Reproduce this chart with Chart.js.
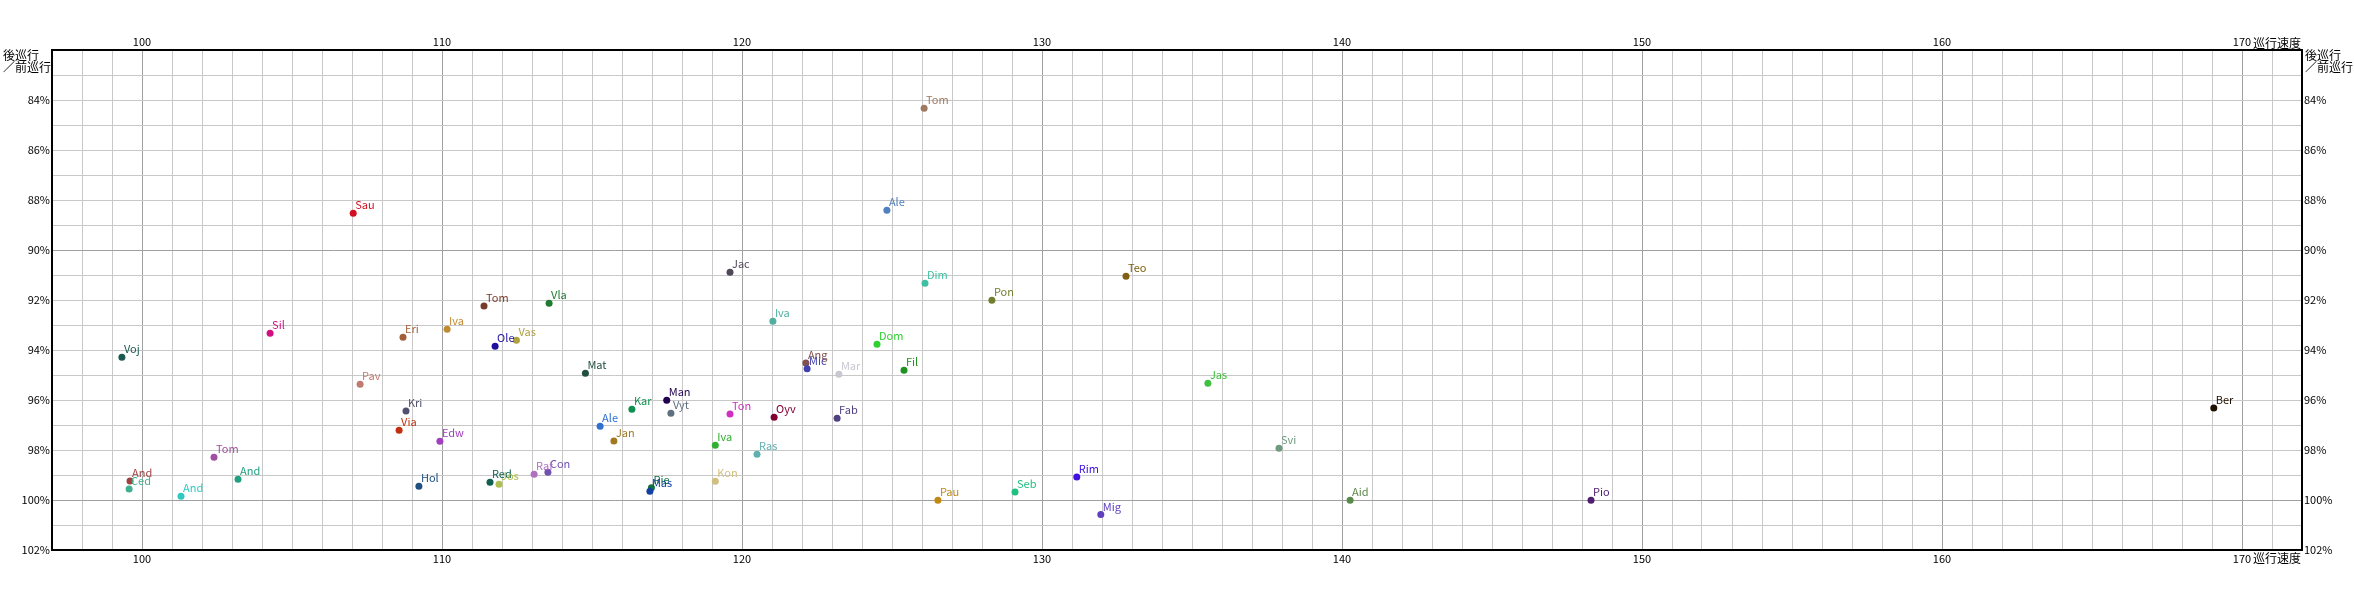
<!DOCTYPE html>
<html lang="ja">
<head>
  <meta charset="UTF-8">
  <title>巡行速度 / 後巡行・前巡行</title>
  <script src="https://cdn.jsdelivr.net/npm/chart.js"></script>
  <style>
    body { margin: 0; background: #fff; }
    canvas { display: block; }
  </style>
</head>
<body>
  <canvas id="graphique" width="2354" height="600"></canvas>

  <script>
    // données
    const names = ["Tom","Ale","Sau","Jac","Teo","Dim","Pon","Vla","Tom","Iva","Iva","Sil","Eri","Vas","Dom","Ole","Voj","Ang","Mic","Fil","Mat","Mar","Jas","Pav","Man","Ber","Kar","Kri","Vyt","Ton","Oyv","Fab","Ale","Via","Jan","Edw","Iva","Svi","Ras","Tom","Con","Raf","Rim","And","And","Kon","Red","Jos","Hol","Rie","Mas","Ced","Seb","And","Pau","Aid","Pio","Mig"];
    const speeds = [126.07,124.83,107.04,119.6,132.8,126.1,128.33,113.57,111.4,121.03,110.17,104.27,108.7,112.48,124.5,111.77,99.33,122.13,122.17,125.4,114.78,123.23,135.53,107.27,117.49,169.06,116.33,108.8,117.63,119.6,121.07,123.17,115.27,108.57,115.73,109.93,119.11,137.9,120.5,102.4,113.53,113.07,131.16,103.2,99.6,119.11,111.6,111.9,109.23,116.98,116.93,99.57,129.1,101.3,126.53,140.27,148.3,131.96];
    const ratios = [84.33,88.41,88.53,90.89,91.05,91.33,92.01,92.13,92.24,92.85,93.17,93.33,93.49,93.61,93.77,93.85,94.29,94.52,94.75,94.81,94.93,94.97,95.33,95.37,96.01,96.32,96.37,96.44,96.53,96.56,96.69,96.73,97.05,97.21,97.64,97.65,97.81,97.93,98.17,98.29,98.89,98.97,99.08,99.17,99.24,99.25,99.29,99.37,99.45,99.51,99.65,99.56,99.68,99.85,100.01,100.01,100.01,100.58];

    const xTicks = [100, 110, 120, 130, 140, 150, 160, 170];
    const yTicks = [84, 86, 88, 90, 92, 94, 96, 98, 100, 102];
    const xTitre = "巡行速度";
    const yTitre = ["後巡行", "／前巡行"];

    const couleurs = ["#a07a60","#5080c0","#d01020","#504858","#806010","#40c0a0","#708030","#207a30","#7a3a2a","#50b0a0","#c08a30","#d01080","#a0603a","#b0a040","#30d030","#2010a0","#1a5a50","#805050","#4040b0","#209020","#205040","#c8c8d0","#40c040","#c07a70","#200050","#201000","#109050","#505070","#607080","#d030c0","#800030","#504080","#3070d0","#c03010","#a07a20","#a040c0","#30b030","#709a80","#60b0b0","#a050a0","#7050b0","#b070c0","#4010e0","#20a080","#a04040","#d0c080","#106050","#b0c050","#205080","#107040","#1040a0","#40b090","#20c080","#30c8c0","#c08a10","#5a8a4a","#502070","#6040c0"];

    const police = '"Noto Sans CJK JP", sans-serif';
    const points = names.map((n, i) => ({ x: speeds[i], y: ratios[i] }));

    // étiquettes des points
    const etiquettes = {
      id: 'etiquettes',
      afterDatasetsDraw(chart) {
        const c = chart.ctx;
        const meta = chart.getDatasetMeta(0);
        c.save();
        c.font = '11px ' + police;
        c.textAlign = 'left';
        c.textBaseline = 'alphabetic';
        meta.data.forEach((pt, i) => {
          c.fillStyle = couleurs[i];
          c.fillText(names[i], pt.x + 2, pt.y - 4);
        });
        c.restore();
      }
    };

    // cadre + titres des axes
    const cadre = {
      id: 'cadre',
      beforeDatasetsDraw(chart) {
        const a = chart.chartArea;
        const c = chart.ctx;
        c.save();
        c.strokeStyle = '#000';
        c.lineWidth = 2;
        c.strokeRect(a.left, a.top, a.right - a.left, a.bottom - a.top);
        c.fillStyle = '#000';
        c.font = '12px ' + police;
        c.textAlign = 'right';
        c.textBaseline = 'bottom';
        c.fillText(xTitre, a.right - 1, a.top - 1);
        c.textBaseline = 'top';
        c.fillText(xTitre, a.right - 1, a.bottom + 2);
        c.textAlign = 'left';
        c.fillText(yTitre[0], 3, a.top - 1);
        c.fillText(yTitre[1], 3, a.top + 11);
        c.fillText(yTitre[0], a.right + 3, a.top - 1);
        c.fillText(yTitre[1], a.right + 3, a.top + 11);
        c.restore();
      }
    };

    const couleurGrille = (ctx) => ctx.tick && ctx.tick.value % 10 === 0 ? '#a0a0a0' : '#c8c8c8';
    const tickX = (v) => xTicks.includes(v) ? String(v) : '';
    const tickY = (v) => yTicks.includes(v) ? v + '%' : '';

    const axeX = (pos, grille, hauteur) => ({
      type: 'linear',
      position: pos,
      min: 97,
      max: 172,
      grid: { display: grille, drawTicks: false, color: couleurGrille, lineWidth: 1 },
      border: { display: false },
      ticks: { stepSize: 1, autoSkip: false, maxRotation: 0, padding: 2, color: '#000',
               font: { family: police, size: 11 }, callback: tickX },
      afterFit: (s) => { s.height = hauteur; }
    });
    const axeY = (pos, grille, largeur) => ({
      type: 'linear',
      position: pos,
      min: 82,
      max: 102,
      reverse: true,
      grid: { display: grille, drawTicks: false, color: couleurGrille, lineWidth: 1 },
      border: { display: false },
      ticks: { stepSize: 1, autoSkip: false, padding: 2, color: '#000',
               font: { family: police, size: 11 }, callback: tickY },
      afterFit: (s) => { s.width = largeur; }
    });

    new Chart(document.getElementById("graphique").getContext("2d"), {
      type: 'scatter',
      data: {
        datasets: [{
          data: points,
          backgroundColor: couleurs,
          borderColor: couleurs,
          borderWidth: 0,
          pointRadius: 3.5,
          xAxisID: 'x',
          yAxisID: 'y'
        }]
      },
      options: {
        responsive: false,
        animation: false,
        layout: { padding: 0 },
        plugins: { legend: { display: false }, tooltip: { enabled: false } },
        scales: {
          x: axeX('bottom', true, 50),
          x2: axeX('top', false, 50),
          y: axeY('left', true, 52),
          y2: axeY('right', false, 52)
        }
      },
      plugins: [cadre, etiquettes]
    });
  </script>
</body>
</html>
